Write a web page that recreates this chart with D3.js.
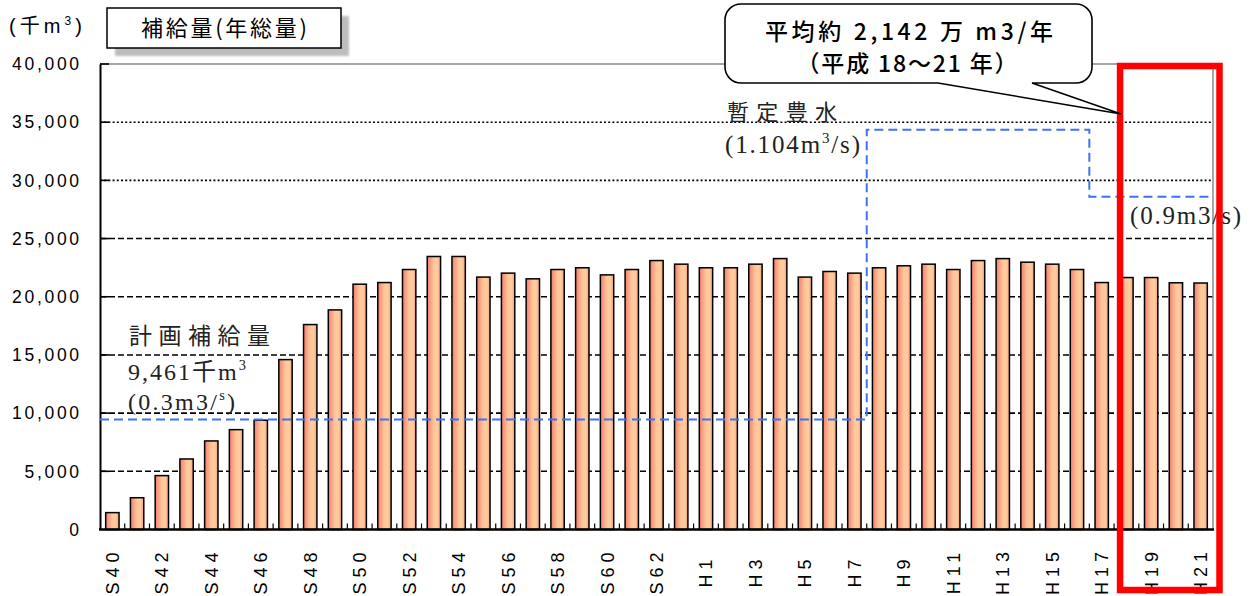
<!DOCTYPE html>
<html>
<head>
<meta charset="utf-8">
<script src="https://cdn.jsdelivr.net/npm/d3@7/dist/d3.min.js"></script>
<style>
  html, body { margin: 0; padding: 0; background: #fff; }
  svg { display: block; }
</style>
</head>
<body>
<svg id="chart" width="1254" height="596"></svg>
<script>
// Fiscal years (Showa 40 – Heisei 21)
const years = [
  "S40","S41","S42","S43","S44","S45","S46","S47","S48","S49",
  "S50","S51","S52","S53","S54","S55","S56","S57","S58","S59",
  "S60","S61","S62","S63","H1","H2","H3","H4","H5","H6",
  "H7","H8","H9","H10","H11","H12","H13","H14","H15","H16",
  "H17","H18","H19","H20","H21"
];

// Annual supply volume (thousand m3)
const supply = [
  1450, 2730, 4630, 6060, 7610, 8580, 9390, 14600, 17610, 18870,
  21080, 21220, 22340, 23460, 23460, 21690, 22030, 21540, 22340, 22490,
  21880, 22340, 23110, 22800, 22490, 22490, 22800, 23280, 21690, 22170,
  22030, 22490, 22660, 22800, 22340, 23110, 23280, 22970, 22800, 22340,
  21220, 21650, 21650, 21200, 21180
];

// Y axis ticks (thousand m3)
const yTicks = [0, 5000, 10000, 15000, 20000, 25000, 30000, 35000, 40000];
const dottedTicks = [30000, 35000];

// Planned / provisional supply levels (thousand m3) and the year each starts
const stepStarts = ["S40", "H8", "H17"];
const stepLevels = [9461, 34350, 28600];

// Highlighted period (H18–H21)
const highlightYears = ["H18", "H21"];

const svg = d3.select("#chart");
const plotL = 100, plotR = 1213, plotT = 64, plotB = 529.5;

const x = d3.scaleBand().domain(years).range([plotL, plotR])
  .paddingInner(0.46).paddingOuter(0.23);
const y = d3.scaleLinear().domain([0, 40000]).range([plotB, plotT]);
const bandStart = c => x(c) - x.step() * x.paddingInner() / 2;

const defs = svg.append("defs");
const grad = defs.append("linearGradient").attr("id", "barFill")
  .attr("x1", "0%").attr("x2", "100%").attr("y1", "0%").attr("y2", "0%");
[["0%", "#f07f70"], ["50%", "#ffc699"], ["75%", "#ffcd9c"], ["100%", "#f5a186"]]
  .forEach(([o, c]) => grad.append("stop").attr("offset", o).attr("stop-color", c));
const blur = defs.append("filter").attr("id", "soft");
blur.append("feGaussianBlur").attr("stdDeviation", 1.2);

const sans = "'Liberation Sans', Arial, 'Noto Sans CJK JP', sans-serif";
const cjk = "'Noto Sans CJK JP', sans-serif";
const serif = "'Liberation Serif', 'Noto Sans CJK JP', serif";

// Gridlines
svg.append("g").selectAll("line")
  .data(yTicks.filter(t => t > 0 && t < 40000))
  .join("line")
  .attr("x1", plotL).attr("x2", plotR)
  .attr("y1", d => y(d)).attr("y2", d => y(d))
  .attr("stroke", "#000").attr("stroke-width", 1.6)
  .attr("stroke-dasharray", d => dottedTicks.includes(d) ? "2,2.2" : "6,3");

// Plot frame (top and right)
svg.append("path")
  .attr("d", `M${plotL},${plotT}H${plotR}V${plotB}`)
  .attr("fill", "none").attr("stroke", "#8a8a8a").attr("stroke-width", 1.5);

// Bars
svg.append("g").selectAll("rect")
  .data(supply)
  .join("rect")
  .attr("x", (d, i) => x(years[i]))
  .attr("width", x.bandwidth())
  .attr("y", d => y(d))
  .attr("height", d => y(0) - y(d))
  .attr("fill", "url(#barFill)")
  .attr("stroke", "#000").attr("stroke-width", 1.5);

// Y axis with inside ticks
const yAxis = d3.axisLeft(y).tickValues(yTicks).tickSize(0).tickFormat("");
svg.append("g").attr("transform", `translate(${plotL},0)`).call(yAxis)
  .select(".domain").attr("stroke", "#000").attr("stroke-width", 2);
svg.append("g").selectAll("line").data(yTicks.filter(t => t > 0))
  .join("line")
  .attr("x1", plotL).attr("x2", plotL + 9)
  .attr("y1", d => y(d)).attr("y2", d => y(d))
  .attr("stroke", "#000").attr("stroke-width", 1.6);

svg.append("g").selectAll("text").data(yTicks)
  .join("text")
  .attr("x", 79 + 2.8).attr("y", d => y(d)).attr("dy", "0.36em")
  .attr("text-anchor", "end")
  .attr("font-family", sans).attr("font-size", 17.5)
  .attr("letter-spacing", 2.7)
  .text(d3.format(","));

// X axis baseline and tick marks between bars
svg.append("line")
  .attr("x1", plotL - 1).attr("x2", plotR + 1)
  .attr("y1", y(0)).attr("y2", y(0))
  .attr("stroke", "#000").attr("stroke-width", 2.5);
svg.append("g").selectAll("line").data(years.slice(1))
  .join("line")
  .attr("x1", d => bandStart(d)).attr("x2", d => bandStart(d))
  .attr("y1", y(0)).attr("y2", y(0) - 6)
  .attr("stroke", "#000").attr("stroke-width", 1.2);

svg.append("g").selectAll("text")
  .data(years.filter((d, i) => i % 2 === 0))
  .join("text")
  .attr("transform", d => `translate(${x(d) + x.bandwidth() / 2},${571}) rotate(-90)`)
  .attr("dy", "0.36em")
  .attr("text-anchor", "middle")
  .attr("font-family", sans).attr("font-size", 18)
  .attr("letter-spacing", 5)
  .text(d => d);

// Planned / provisional supply step line
const stepPts = [];
stepLevels.forEach((lv, i) => {
  const xs = i === 0 ? plotL : bandStart(stepStarts[i]);
  const xe = i + 1 < stepStarts.length ? bandStart(stepStarts[i + 1]) : plotR;
  stepPts.push([xs, y(lv)], [xe, y(lv)]);
});
svg.append("path")
  .attr("d", d3.line()(stepPts))
  .attr("fill", "none").attr("stroke", "#3f73f2").attr("stroke-width", 2)
  .attr("stroke-dasharray", "9,5");

// Text with optional superscript parts
function richText(xp, yp, parts, opts) {
  const t = svg.append("text").attr("x", xp).attr("y", yp)
    .attr("font-family", opts.font).attr("font-size", opts.size)
    .attr("fill", opts.fill || "#1a1a1a");
  if (opts.weight) t.attr("font-weight", opts.weight);
  if (opts.length) t.attr("textLength", opts.length).attr("lengthAdjust", "spacing");
  if (opts.anchor) t.attr("text-anchor", opts.anchor);
  const rise = opts.size * 0.42;
  let raised = false;
  parts.forEach(p => {
    const sup = typeof p !== "string";
    const ts = t.append("tspan").text(sup ? p.sup : p);
    if (sup) {
      ts.attr("font-size", opts.size * 0.6).attr("dy", -rise);
      raised = true;
    } else if (raised) {
      ts.attr("dy", rise);
      raised = false;
    }
  });
  return t;
}

richText(129, 344, ["計画補給量"], { font: cjk, size: 23, length: 141, fill: "#222" });
richText(128, 380, ["9,461千m", { sup: "3" }], { font: serif, size: 24, length: 118, fill: "#222" });
richText(128, 410, ["(0.3m3/", { sup: "s" }, ")"], { font: serif, size: 24, length: 107, fill: "#222" });
richText(727, 120, ["暫定豊水"], { font: cjk, size: 22, length: 110, fill: "#222" });
richText(725, 153, ["(1.104m", { sup: "3" }, "/s)"], { font: serif, size: 25, length: 135, fill: "#222" });
richText(1130, 224, ["(0.9m3/s)"], { font: serif, size: 25, length: 111, fill: "#222" });

// Highlight box around H18–H21
const hx0 = bandStart(highlightYears[0]) + 6;
const hx1 = plotR + 6.5;
svg.append("rect")
  .attr("x", hx0).attr("y", 66)
  .attr("width", hx1 - hx0).attr("height", 524)
  .attr("fill", "none").attr("stroke", "#ff0000").attr("stroke-width", 6.5);

// Callout bubble
const L = 725, R = 1092, T = 4, B = 83, r = 16;
const tip = [hx0 + 1, 114];
const bp = d3.path();
bp.moveTo(L + r, T);
bp.lineTo(R - r, T);
bp.arcTo(R, T, R, T + r, r);
bp.lineTo(R, B - r);
bp.arcTo(R, B, R - r, B, r);
bp.lineTo(1032, B);
bp.lineTo(tip[0], tip[1]);
bp.lineTo(938, B);
bp.lineTo(L + r, B);
bp.arcTo(L, B, L, B - r, r);
bp.lineTo(L, T + r);
bp.arcTo(L, T, L + r, T, r);
bp.closePath();
svg.append("path").attr("d", bp.toString())
  .attr("fill", "#fff").attr("stroke", "#000").attr("stroke-width", 1.6);

richText(909, 40, ["平均約 2,142 万 m3/年"], { font: cjk, size: 23, weight: 500, length: 288, anchor: "middle", fill: "#000" });
richText(907, 72, ["（平成 18～21 年）"], { font: cjk, size: 23, weight: 500, length: 221, anchor: "middle", fill: "#000" });

// Title box with shadow
svg.append("rect").attr("x", 115).attr("y", 16).attr("width", 234).attr("height", 40)
  .attr("fill", "#bdbdbd").attr("filter", "url(#soft)");
svg.append("rect").attr("x", 107).attr("y", 8).attr("width", 234).attr("height", 40)
  .attr("fill", "#fff").attr("stroke", "#000").attr("stroke-width", 1.5);
richText(224, 36, ["補給量(年総量)"], { font: cjk, size: 22, length: 166, anchor: "middle", fill: "#000" });

// Unit label
richText(9, 33, ["(千m", { sup: "3" }, ")"], { font: sans, size: 20, length: 73, fill: "#000" });
</script>
</body>
</html>
